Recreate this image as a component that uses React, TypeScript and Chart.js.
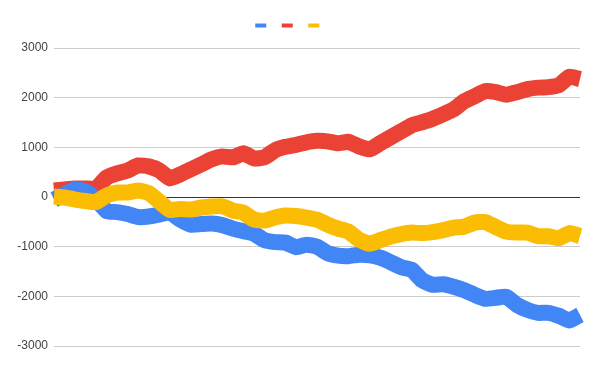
import React, { useEffect, useRef } from "react";
import { Chart, registerables } from "chart.js";

Chart.register(...registerables);

const steps = [
  0, 20, 40, 60, 80, 100, 120, 140, 160, 180, 200, 220, 240, 260, 280, 300, 320,
  340, 360, 380, 400, 420, 440, 460, 480, 500, 520, 540, 560, 580, 600, 620, 640,
  660, 680, 700, 720, 740, 760, 780, 800, 820, 840, 860, 880, 900, 920, 940, 960,
  980, 1000,
];

const blueSeries = [
  -51, 51, 152, 111, -51, -283, -303, -343, -404, -394, -354, -313, -455, -556,
  -545, -535, -566, -636, -687, -737, -869, -909, -919, -1010, -960, -1000, -1131,
  -1182, -1192, -1162, -1172, -1222, -1313, -1414, -1465, -1677, -1768, -1757,
  -1808, -1879, -1970, -2050, -2030, -2010, -2172, -2273, -2333, -2333, -2394,
  -2485, -2374,
];

const redSeries = [
  131, 152, 172, 172, 172, 394, 475, 535, 636, 616, 535, 374, 455, 556, 657, 758,
  818, 798, 879, 778, 798, 939, 1010, 1050, 1101, 1131, 1121, 1081, 1111, 1020,
  960, 1081, 1202, 1323, 1444, 1505, 1576, 1667, 1768, 1929, 2030, 2131, 2111,
  2060, 2111, 2171, 2202, 2212, 2252, 2424, 2374,
];

const yellowSeries = [
  10, -10, -51, -81, -101, 30, 91, 91, 131, 81, -91, -263, -242, -253, -212, -192,
  -186, -273, -313, -455, -475, -414, -374, -384, -414, -455, -556, -636, -697,
  -859, -939, -869, -798, -747, -717, -727, -707, -667, -616, -596, -515, -505,
  -606, -697, -717, -717, -788, -792, -828, -727, -788,
];

const yTicks = [-3000, -2000, -1000, 0, 1000, 2000, 3000];

const BLUE = "#4285F4";
const RED = "#EA4335";
const YELLOW = "#FBBC04";

const legendGap = {
  id: "legendGap",
  beforeInit(chart: any) {
    const legend = chart.legend;
    if (!legend) return;
    const origFit = legend.fit;
    legend.fit = function () {
      origFit.call(this);
      this.height += 7;
    };
  },
};

export default function App() {
  const canvasRef = useRef<HTMLCanvasElement | null>(null);

  useEffect(() => {
    const canvas = canvasRef.current;
    if (!canvas) return;
    const mk = (data: number[], color: string, order: number) => ({
      label: "",
      data,
      borderColor: color,
      backgroundColor: color,
      borderWidth: 16,
      pointRadius: 0,
      tension: 0.15,
      borderJoinStyle: "round" as const,
      fill: false,
      order,
    });
    const chart = new Chart(canvas, {
      type: "line",
      data: {
        labels: steps,
        datasets: [
          mk(blueSeries, BLUE, 1),
          mk(redSeries, RED, 2),
          mk(yellowSeries, YELLOW, 0),
        ],
      },
      plugins: [legendGap],
      options: {
        animation: false,
        responsive: false,
        layout: { padding: { left: 0, right: 16, top: 10, bottom: 24 } },
        plugins: {
          tooltip: { enabled: false },
          legend: {
            position: "top",
            align: "center",
            labels: {
              boxWidth: 11,
              boxHeight: 4,
              padding: 10,
              font: { size: 11, family: "'Liberation Sans', Arial, sans-serif" },
              sort: (a: any, b: any) => a.datasetIndex - b.datasetIndex,
              generateLabels: (c: any) =>
                Chart.defaults.plugins.legend.labels
                  .generateLabels(c)
                  .map((it: any) => ({ ...it, text: "", lineWidth: 0 })),
            },
          },
        },
        scales: {
          x: {
            type: "category",
            display: false,
            offset: false,
          },
          y: {
            min: -3000,
            max: 3000,
            afterBuildTicks: (scale: any) => {
              scale.ticks = yTicks.map((v) => ({ value: v }));
            },
            afterFit: (scale: any) => {
              scale.width = 54;
            },
            border: { display: false },
            grid: {
              drawTicks: false,
              color: (ctx: any) => (ctx.tick && ctx.tick.value === 0 ? "#333333" : "#cccccc"),
              lineWidth: 1,
            },
            ticks: {
              padding: 6,
              color: "#444444",
              font: { size: 12, family: "'Liberation Sans', Arial, sans-serif" },
              callback: (v: any) => String(v),
            },
          },
        },
      },
    });
    return () => chart.destroy();
  }, []);

  return (
    <div style={{ position: "fixed", left: 0, top: 0, width: 596, height: 370, background: "#fff" }}>
      <canvas ref={canvasRef} width={596} height={370} style={{ display: "block" }} />
    </div>
  );
}
